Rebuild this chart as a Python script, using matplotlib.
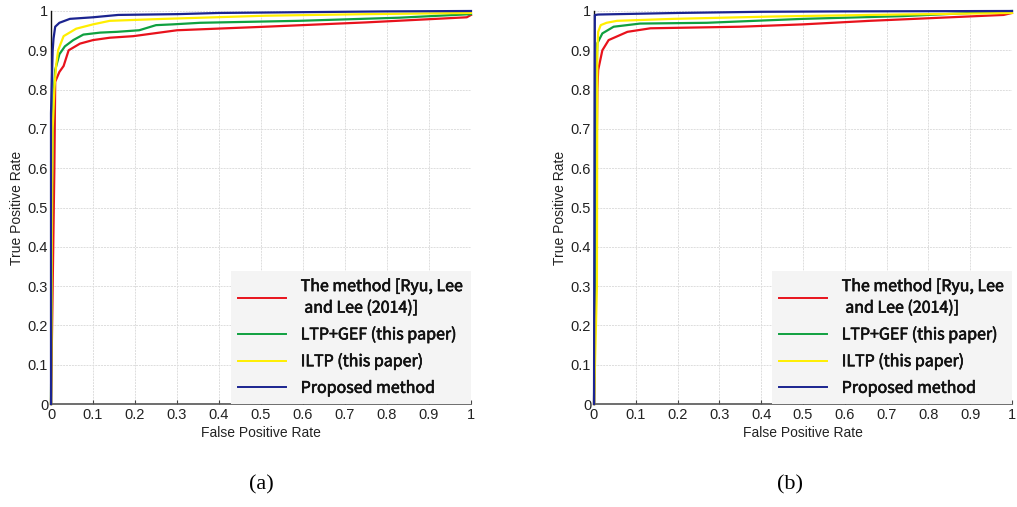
import matplotlib
matplotlib.use("Agg")
import matplotlib.pyplot as plt
import matplotlib.patheffects as pe

# ---- data: panel (a) ----
a_red_x = [0, 0.004, 0.008, 0.01, 0.02, 0.03, 0.042, 0.069, 0.1, 0.14, 0.196, 0.3, 0.51, 0.75, 0.99, 1.0]
a_red_y = [0, 0.3, 0.6, 0.82, 0.845, 0.86, 0.9, 0.917, 0.926, 0.932, 0.936, 0.951, 0.96, 0.971, 0.984, 0.99]
a_green_x = [0, 0.003, 0.006, 0.01, 0.02, 0.033, 0.053, 0.077, 0.117, 0.157, 0.21, 0.25, 0.29, 0.355, 0.59, 0.83, 1.0]
a_green_y = [0, 0.6, 0.78, 0.85, 0.89, 0.91, 0.926, 0.94, 0.945, 0.947, 0.951, 0.964, 0.966, 0.97, 0.975, 0.983, 0.992]
a_yellow_x = [0, 0.003, 0.004, 0.008, 0.012, 0.017, 0.03, 0.06, 0.1, 0.14, 0.27, 0.51, 0.75, 1.0]
a_yellow_y = [0, 0.6, 0.7, 0.8, 0.86, 0.9, 0.936, 0.955, 0.966, 0.975, 0.98, 0.988, 0.992, 0.995]
a_blue_x = [0, 0, 0.002, 0.004, 0.006, 0.01, 0.02, 0.045, 0.1, 0.16, 0.3, 0.4, 0.6, 0.8, 1.0]
a_blue_y = [0, 0.74, 0.82, 0.90, 0.93, 0.96, 0.97, 0.98, 0.984, 0.99, 0.992, 0.995, 0.997, 0.999, 1.0]

# ---- data: panel (b) ----
b_red_x = [0, 0.005, 0.008, 0.01, 0.02, 0.035, 0.08, 0.135, 0.35, 0.5, 0.66, 0.98, 1.0]
b_red_y = [0, 0.5, 0.8, 0.85, 0.9, 0.926, 0.947, 0.956, 0.96, 0.966, 0.975, 0.99, 0.995]
b_green_x = [0, 0.004, 0.006, 0.008, 0.02, 0.047, 0.11, 0.27, 0.5, 0.74, 0.9, 1.0]
b_green_y = [0, 0.6, 0.85, 0.918, 0.943, 0.96, 0.968, 0.97, 0.98, 0.987, 0.995, 1.0]
b_yellow_x = [0, 0.007, 0.008, 0.01, 0.016, 0.03, 0.055, 0.19, 0.43, 0.66, 1.0]
b_yellow_y = [0, 0.3, 0.9, 0.947, 0.964, 0.97, 0.975, 0.98, 0.986, 0.99, 0.995]
b_blue_x = [0, 0.002, 0.004, 0.01, 0.2, 0.4, 0.6, 1.0]
b_blue_y = [0, 0.99, 0.99, 0.991, 0.995, 0.998, 0.999, 1.0]

labels = ["The method [Ryu, Lee\n and Lee (2014)]", "LTP+GEF (this paper)",
          "ILTP (this paper)", "Proposed method"]
colors = ["#e8121c", "#0fa040", "#ffee00", "#1b2490"]
ticks = [0, 0.1, 0.2, 0.3, 0.4, 0.5, 0.6, 0.7, 0.8, 0.9, 1.0]
tick_labels = ["0", "0.1", "0.2", "0.3", "0.4", "0.5", "0.6", "0.7", "0.8", "0.9", "1"]
captions = ["(a)", "(b)"]

panels = [
    [(a_red_x, a_red_y), (a_green_x, a_green_y), (a_yellow_x, a_yellow_y), (a_blue_x, a_blue_y)],
    [(b_red_x, b_red_y), (b_green_x, b_green_y), (b_yellow_x, b_yellow_y), (b_blue_x, b_blue_y)],
]

fig = plt.figure(figsize=(10.17, 5.07), dpi=100)
fig.patch.set_facecolor("white")

axes_rects = [[51 / 1017, 103 / 507, 420 / 1017, 393 / 507],
              [594 / 1017, 103 / 507, 418 / 1017, 393 / 507]]
caption_x = [261 / 1017, 790 / 1017]

for i, rect in enumerate(axes_rects):
    ax = fig.add_axes(rect)
    for (x, y), c, lab in zip(panels[i], colors, labels):
        ax.plot(x, y, color=c, lw=1.6, label=lab, clip_on=False, zorder=3)
    ax.set_xlim(0, 1)
    ax.set_ylim(0, 1)
    ax.set_xticks(ticks)
    ax.set_yticks(ticks)
    ax.set_xticklabels(tick_labels, family="Liberation Sans", fontsize=10.5)
    ax.set_yticklabels(tick_labels, family="Liberation Sans", fontsize=10.5)
    ax.tick_params(direction="in", length=3, width=0.8, color="#444444", pad=3,
                   labelcolor="#222222")
    ax.tick_params(axis="y", length=0, pad=2)
    ax.grid(True, color="#dddddd", lw=0.7, ls=(0, (2, 1)))
    ax.set_axisbelow(True)
    for s in ["top", "right"]:
        ax.spines[s].set_visible(False)
    ax.spines["left"].set_color("#111111")
    ax.spines["left"].set_linewidth(1.0)
    ax.spines["bottom"].set_color("#555555")
    ax.spines["bottom"].set_linewidth(1.2)
    ax.set_xlabel("False Positive Rate", family="Liberation Sans", fontsize=10,
                  color="#222222", labelpad=3)
    ax.set_ylabel("True Positive Rate", family="Liberation Sans", fontsize=10,
                  color="#222222", labelpad=3)
    leg = ax.legend(loc="lower right", borderaxespad=0, frameon=True, fancybox=False,
                    facecolor="#f4f4f4", edgecolor="none", framealpha=1,
                    prop={"family": ["Noto Sans CJK SC", "DejaVu Sans"], "size": 11.5},
                    handlelength=3.0, handletextpad=0.9, labelspacing=0.6,
                    borderpad=0.45)
    for line in leg.get_lines():
        line.set_linewidth(1.4)
    for t in leg.get_texts():
        t.set_linespacing(1.35)
        t.set_color("#111111")
        t.set_path_effects([pe.withStroke(linewidth=0.45, foreground="#111111")])
    leg.set_zorder(5)
    fig.text(caption_x[i], 0.035, captions[i], family="Liberation Serif", fontsize=16,
             ha="center", va="baseline")

fig.savefig("out.png", dpi=100)
